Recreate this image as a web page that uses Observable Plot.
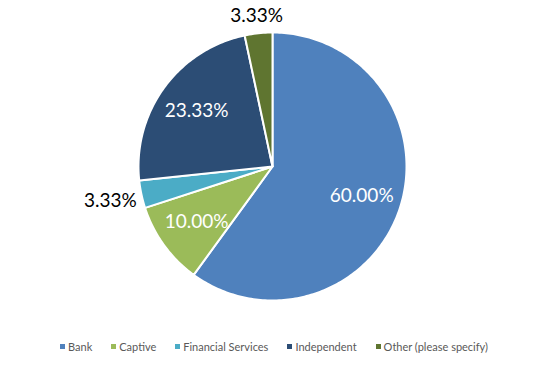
<!DOCTYPE html>
<html>
<head>
<meta charset="utf-8">
<script src="https://cdn.jsdelivr.net/npm/d3@7"></script>
<script src="https://cdn.jsdelivr.net/npm/@observablehq/plot@0.6"></script>
<style>
  html, body { margin: 0; padding: 0; background: #fff; }
  #chart { width: 548px; }
  .lg-swatches { justify-content: center; font-family: Lato, "Open Sans", sans-serif !important; font-size: 11px !important; color: #595959 !important; margin: 0 !important; min-height: 33px !important; }
  .lg-swatch { margin-right: 19px !important; }
  .lg-swatch:last-child { margin-right: 0 !important; }
  .lg-swatch > svg { margin-right: 3px !important; }
</style>
</head>
<body>
<div id="chart"></div>
<script>
const categories = ["Bank", "Captive", "Financial Services", "Independent", "Other (please specify)"];
const values = [60.00, 10.00, 3.33, 23.33, 3.33];
const labels = ["60.00%", "10.00%", "3.33%", "23.33%", "3.33%"];
const colors = ["#4F81BD", "#9BBB59", "#4BACC6", "#2C4D75", "#5F7530"];

const R = 134;          // pie radius in px
const W = 548, H = 330;
const cx = 272, cy = 166;

const arcs = d3.pie().sort(null)(values);

// slices as polygons in unit coordinates (identity projection, y down)
const slices = arcs.map((a, i) => {
  const pts = [[0, 0]];
  const n = Math.max(4, Math.ceil((a.endAngle - a.startAngle) / (Math.PI / 180)));
  for (let k = 0; k <= n; k++) {
    const t = a.startAngle + (a.endAngle - a.startAngle) * k / n;
    pts.push([Math.sin(t), -Math.cos(t)]);
  }
  pts.push([0, 0]);
  return {type: "Feature", properties: {category: categories[i]}, geometry: {type: "Polygon", coordinates: [pts]}};
});

// label positions: inside for large slices, outside (best fit) for small ones
const halfW = 26 / R, halfH = 11 / R, gap = 4 / R;
const labelData = arcs.map((a, i) => {
  const m = (a.startAngle + a.endAngle) / 2;
  const ux = Math.sin(m), uy = -Math.cos(m);
  const outside = values[i] < 5;
  const r = outside ? 1 + gap + halfW * Math.abs(ux) + halfH * Math.abs(uy) : 0.7;
  return {x: ux * r, y: uy * r, text: labels[i], outside};
});

const chart = Plot.plot({
  width: W,
  height: H,
  margin: 0,
  projection: {
    type: "identity",
    domain: {type: "MultiPoint", coordinates: [[-cx / R, -cy / R], [(W - cx) / R, (H - cy) / R]]}
  },
  color: {domain: categories, range: colors},
  style: {fontFamily: "Lato, 'Open Sans', sans-serif", background: "#fff"},
  marks: [
    Plot.geo(slices, {fill: d => d.properties.category, stroke: "white", strokeWidth: 2}),
    Plot.text(labelData, {
      x: "x", y: "y", text: "text",
      fill: d => d.outside ? "#000000" : "#FFFFFF",
      fontSize: 19,
      fontFamily: "Lato, 'Open Sans', sans-serif"
    })
  ]
});

const legend = chart.legend("color", {legend: "swatches", swatchSize: 5, className: "lg"});

const root = document.getElementById("chart");
root.appendChild(chart);
root.appendChild(legend);
</script>
</body>
</html>
